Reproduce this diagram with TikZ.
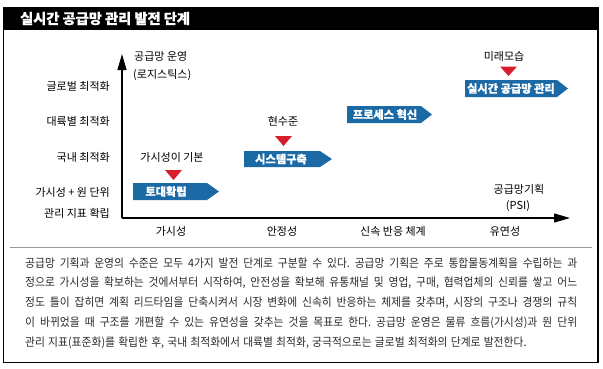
\documentclass[tikz,border=0pt]{standalone}
\usepackage{fontspec}
\setmainfont{Noto Sans CJK KR}
\newfontfamily\bodyfont{Noto Sans CJK KR}[FakeStretch=0.93]
\newfontfamily\heavy{Noto Sans CJK KR}[BoldFeatures={FakeBold=0.6}]
\usetikzlibrary{arrows.meta}
\definecolor{bannerblue}{HTML}{1B6AA6}
\definecolor{tricol}{HTML}{D81E2C}
\definecolor{bodytext}{HTML}{2A2A2A}
\tikzset{
  lbl/.style={font=\fontsize{11}{13}\selectfont, inner sep=0, text=black},
  bantext/.style={font=\heavy\bfseries\fontsize{11.2}{13}\selectfont, text=white, inner sep=0},
  bannerfill/.style={fill=bannerblue},
  redtri/.style={fill=tricol},
  axisline/.style={line width=1.1pt, -{Triangle[length=16pt,width=9pt]}},
  frameline/.style={line width=1.2pt, line join=miter},
}
\begin{document}
\frenchspacing
\begin{tikzpicture}[x=1pt,y=-1pt]
\useasboundingbox (0,0) rectangle (603,368);
% title bar and frame
\fill[black] (3,7) rectangle (598.6,29.5);
\node[anchor=west, font=\heavy\bfseries\fontsize{14.2}{16}\selectfont, text=white, inner sep=0] (title) at (20,18.5) {실시간 공급망 관리 발전 단계};
\draw[frameline] (3.6,29) -- (3.6,362.4) -- (598,362.4) -- (598,29);
\draw[gray!80, line width=0.9pt] (10,247) -- (592,247);

% axes
\coordinate (O) at (122,218);
\coordinate (Ytop) at (122,54);
\coordinate (Xend) at (570,218);
\draw[axisline] (O) -- (Ytop);
\draw[axisline] (O) -- (Xend);

% y labels
\node[lbl, anchor=east] (yl1) at (110,86) {글로벌 최적화};
\node[lbl, anchor=east] (yl2) at (110,121) {대륙별 최적화};
\node[lbl, anchor=east] (yl3) at (110,157) {국내 최적화};
\node[lbl, anchor=east] (yl4) at (110,192) {가시성 + 원 단위};
\node[lbl, anchor=east] (yl5) at (110,213) {관리 지표 확립};
\node[lbl, anchor=west] (yax1) at (134,56) {공급망 운영};
\node[lbl, anchor=west] (yax2) at (133,75) {(로지스틱스)};

% x labels
\node[lbl] (xl1) at (171,231) {가시성};
\node[lbl] (xl2) at (282,231) {안정성};
\node[lbl] (xl3) at (393,231) {신속 반응 체계};
\node[lbl] (xl4) at (505,231) {유연성};
\node[lbl] (xax1) at (519,189) {공급망기획};
\node[lbl] (xax2) at (518,206) {(PSI)};

% banners
\fill[bannerfill] (133,183) -- (207,183) -- (219,191.5) -- (207,200) -- (133,200) -- cycle;
\node[bantext] (b1) at (166,191.5) {토대확립};
\fill[bannerfill] (244,151) -- (320,151) -- (332,159) -- (320,167) -- (244,167) -- cycle;
\node[bantext] (b2) at (281,159) {시스템구축};
\fill[bannerfill] (347,106) -- (421,106) -- (432,114.5) -- (421,123) -- (347,123) -- cycle;
\node[bantext] (b3) at (385,114.5) {프로세스 혁신};
\fill[bannerfill] (465,80) -- (557,80) -- (568,88.5) -- (557,97) -- (465,97) -- cycle;
\node[bantext] (b4) at (511,88.5) {실시간 공급망 관리};

% markers
\fill[redtri] (165,170) -- (182,170) -- (173.5,180) -- cycle;
\node[lbl] (m1) at (172,157) {가시성이 기본};
\fill[redtri] (275,136) -- (292,136) -- (283.5,146) -- cycle;
\node[lbl] (m2) at (283,121) {현수준};
\fill[redtri] (500,66.5) -- (517,66.5) -- (508.5,76) -- cycle;
\node[lbl] (m3) at (504,56) {미래모습};

% body text
\node[anchor=base west, inner sep=0, text=bodytext] (body) at (25,267) {\parbox[t]{552pt}{\bodyfont\fontsize{11.6}{19.8}\selectfont\spaceskip=3.2pt plus 6pt minus 1.5pt
공급망 기획과 운영의 수준은 모두 4가지 발전 단계로 구분할 수 있다. 공급망 기획은 주로 통합물동계획을 수립하는 과\linebreak
정으로 가시성을 확보하는 것에서부터 시작하여, 안전성을 확보해 유통채널 및 영업, 구매, 협력업체의 신뢰를 쌓고 어느\linebreak
정도 틀이 잡히면 계획 리드타임을 단축시켜서 시장 변화에 신속히 반응하는 체제를 갖추며, 시장의 구조나 경쟁의 규칙\linebreak
이 바뀌었을 때 구조를 개편할 수 있는 유연성을 갖추는 것을 목표로 한다. 공급망 운영은 물류 흐름(가시성)과 원 단위\linebreak
관리 지표(표준화)를 확립한 후, 국내 최적화에서 대륙별 최적화, 궁극적으로는 글로벌 최적화의 단계로 발전한다.}};
\end{tikzpicture}
\end{document}
